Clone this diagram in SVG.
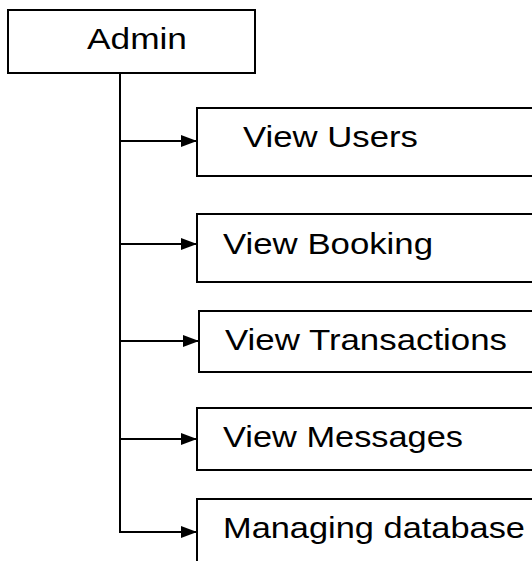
<svg xmlns="http://www.w3.org/2000/svg" width="532" height="561" viewBox="0 0 532 561">
<style>
.box{fill:#fff;stroke:#000;stroke-width:2}
.lbl{font-family:"Liberation Sans",Arial,sans-serif;font-size:30px;fill:#000}
.con{stroke:#000;stroke-width:2;fill:none}
</style>
<defs>
<marker id="ah" markerWidth="16" markerHeight="12" refX="16" refY="6" orient="auto" markerUnits="userSpaceOnUse">
<path d="M0,0 L16,6 L0,12 z" fill="#000"/>
</marker>
</defs>
<rect width="532" height="561" fill="#fff"/>
<g id="admin">
<rect class="box" x="8" y="10" width="247" height="63"/>
<text class="lbl" x="87" y="49" textLength="100" lengthAdjust="spacingAndGlyphs">Admin</text>
</g>
<g id="view-users">
<rect class="box" x="197" y="108" width="345" height="68"/>
<text class="lbl" x="243" y="147" textLength="175" lengthAdjust="spacingAndGlyphs">View Users</text>
</g>
<g id="view-booking">
<rect class="box" x="197" y="214" width="345" height="68"/>
<text class="lbl" x="223" y="254" textLength="210" lengthAdjust="spacingAndGlyphs">View Booking</text>
</g>
<g id="view-transactions">
<rect class="box" x="199" y="311" width="345" height="61"/>
<text class="lbl" x="225" y="350" textLength="282" lengthAdjust="spacingAndGlyphs">View Transactions</text>
</g>
<g id="view-messages">
<rect class="box" x="197" y="408" width="345" height="62"/>
<text class="lbl" x="223" y="447" textLength="240" lengthAdjust="spacingAndGlyphs">View Messages</text>
</g>
<g id="managing-database">
<rect class="box" x="197" y="499" width="345" height="80"/>
<text class="lbl" x="223" y="538" textLength="302" lengthAdjust="spacingAndGlyphs">Managing database</text>
</g>
<g id="connectors">
<path class="con" d="M120,73 V533"/>
<path class="con" d="M120,141 H197" marker-end="url(#ah)"/>
<path class="con" d="M120,244 H197" marker-end="url(#ah)"/>
<path class="con" d="M120,341 H199" marker-end="url(#ah)"/>
<path class="con" d="M120,439 H197" marker-end="url(#ah)"/>
<path class="con" d="M119,532 H197" marker-end="url(#ah)"/>
</g>
</svg>
